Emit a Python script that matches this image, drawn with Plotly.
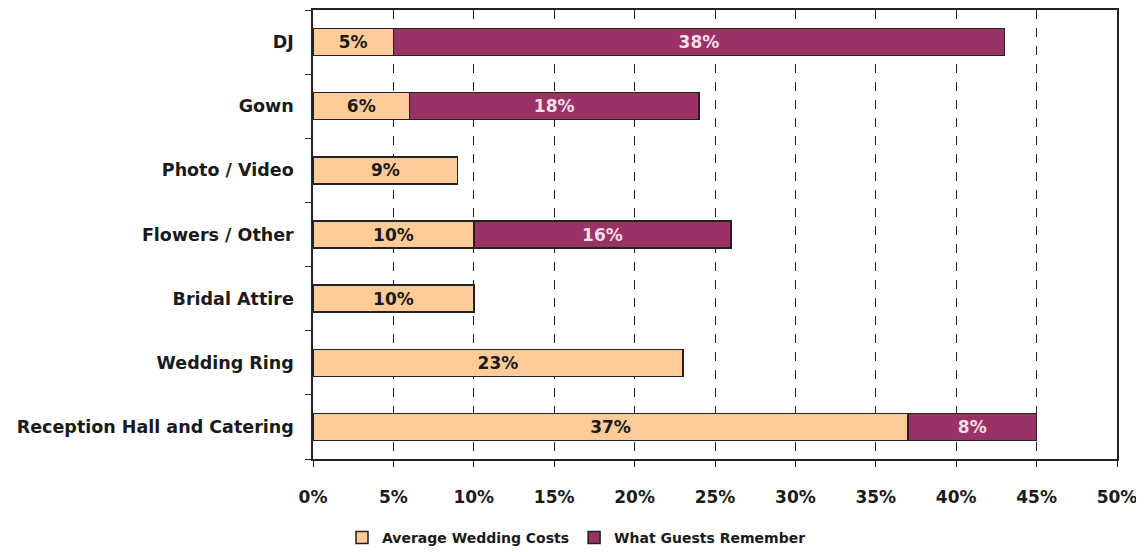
import plotly.graph_objects as go

categories = ["DJ", "Gown", "Photo / Video", "Flowers / Other", "Bridal Attire",
              "Wedding Ring", "Reception Hall and Catering"]
avg_costs = [5, 6, 9, 10, 10, 23, 37]
guests_remember = [38, 18, None, 16, None, None, 8]
x_ticks = [0, 5, 10, 15, 20, 25, 30, 35, 40, 45, 50]

FONT = "DejaVu Sans"

def labels(vals):
    return [f"<b>{v}%</b>" if v else "" for v in vals]

fig = go.Figure()
fig.add_trace(go.Bar(
    y=categories, x=avg_costs, orientation="h", name="<b>Average Wedding Costs</b>",
    marker=dict(color="#FFCC99", line=dict(color="#222222", width=1.5)),
    text=labels(avg_costs), textposition="inside", insidetextanchor="middle",
    textfont=dict(color="#1a1a1a", size=17, family=FONT), hoverinfo="x+y",
))
fig.add_trace(go.Bar(
    y=categories, x=guests_remember, orientation="h", name="<b>What Guests Remember</b>",
    marker=dict(color="#993366", line=dict(color="#222222", width=1.5)),
    text=labels(guests_remember), textposition="inside", insidetextanchor="middle",
    textfont=dict(color="#F5DDE8", size=17, family=FONT), hoverinfo="x+y",
))

L, R, T, B = 305, 35, 2, 101
fig.update_layout(
    width=1144, height=552,
    barmode="stack", bargap=0.58,
    plot_bgcolor="white", paper_bgcolor="white",
    margin=dict(l=L, r=R, t=T, b=B, autoexpand=False),
    font=dict(family=FONT, size=16, color="#1a1a1a"),
    showlegend=True,
    legend=dict(orientation="h", x=(334 - L) / (1144 - L - R), xref="paper", xanchor="left",
                yref="container", y=0.04, yanchor="middle",
                traceorder="normal", font=dict(size=14, family=FONT),
                itemwidth=30),
    xaxis=dict(range=[0, 50], tickvals=x_ticks, ticktext=[f"<b>{v}%</b>" for v in x_ticks],
               showgrid=True, gridcolor="#222222", griddash="dash", gridwidth=1.2,
               showline=True, linecolor="#222222", linewidth=1.5, mirror=True,
               ticks="outside", ticklen=6, tickcolor="#222222", tickwidth=1.2,
               tickfont=dict(size=17, family=FONT), zeroline=False,
               automargin=False, ticklabelstandoff=16),
    yaxis=dict(autorange="reversed", type="category",
               tickvals=categories, ticktext=[f"<b>{c}</b>" for c in categories],
               tickson="boundaries", ticks="outside", ticklen=6, tickcolor="#222222",
               tickwidth=1.2, showgrid=False,
               showline=True, linecolor="#222222", linewidth=1.5, mirror=True,
               tickfont=dict(size=17.5, family=FONT), ticklabelstandoff=14,
               automargin=False),
)

fig.write_html("out.html")
